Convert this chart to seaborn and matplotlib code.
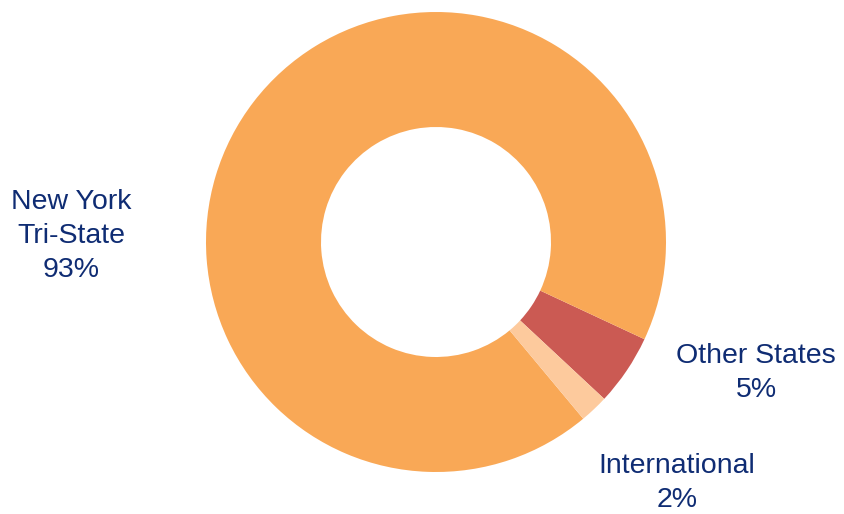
import matplotlib
matplotlib.use("Agg")
import matplotlib.pyplot as plt
import seaborn as sns

# Datos del gráfico
categories = ["Other States", "New York Tri-State", "International"]
shares = [5, 93, 2]
label_texts = ["Other States\n5%", "New York\nTri-State\n93%", "International\n2%"]
colors = ["#CB5A53", "#F9A856", "#FDCA9D"]

sns.set_theme(style="white")
plt.rcParams['font.family'] = ['Liberation Sans', 'DejaVu Sans']

fig = plt.figure(figsize=(8.44, 5.14), dpi=100)
ax = fig.add_axes([0, 0, 1, 1])
ax.set_xlim(0, 844)
ax.set_ylim(0, 514)
ax.set_aspect('equal')
ax.axis('off')

# Donut
ax.pie(shares, colors=colors, startangle=-43, counterclock=True,
       center=(436, 272), radius=230,
       wedgeprops={'width': 115, 'linewidth': 0})
ax.set_xlim(0, 844)
ax.set_ylim(0, 514)

# Etiquetas
text_color = "#0F2C73"
positions = [(756, 141), (71, 278), (677, 31)]
for txt, (x, y) in zip(label_texts, positions):
    ax.text(x, y, txt, ha='center', va='center', fontsize=20.5,
            color=text_color, linespacing=1.38)

plt.savefig('out.png', dpi=100)
plt.close()
